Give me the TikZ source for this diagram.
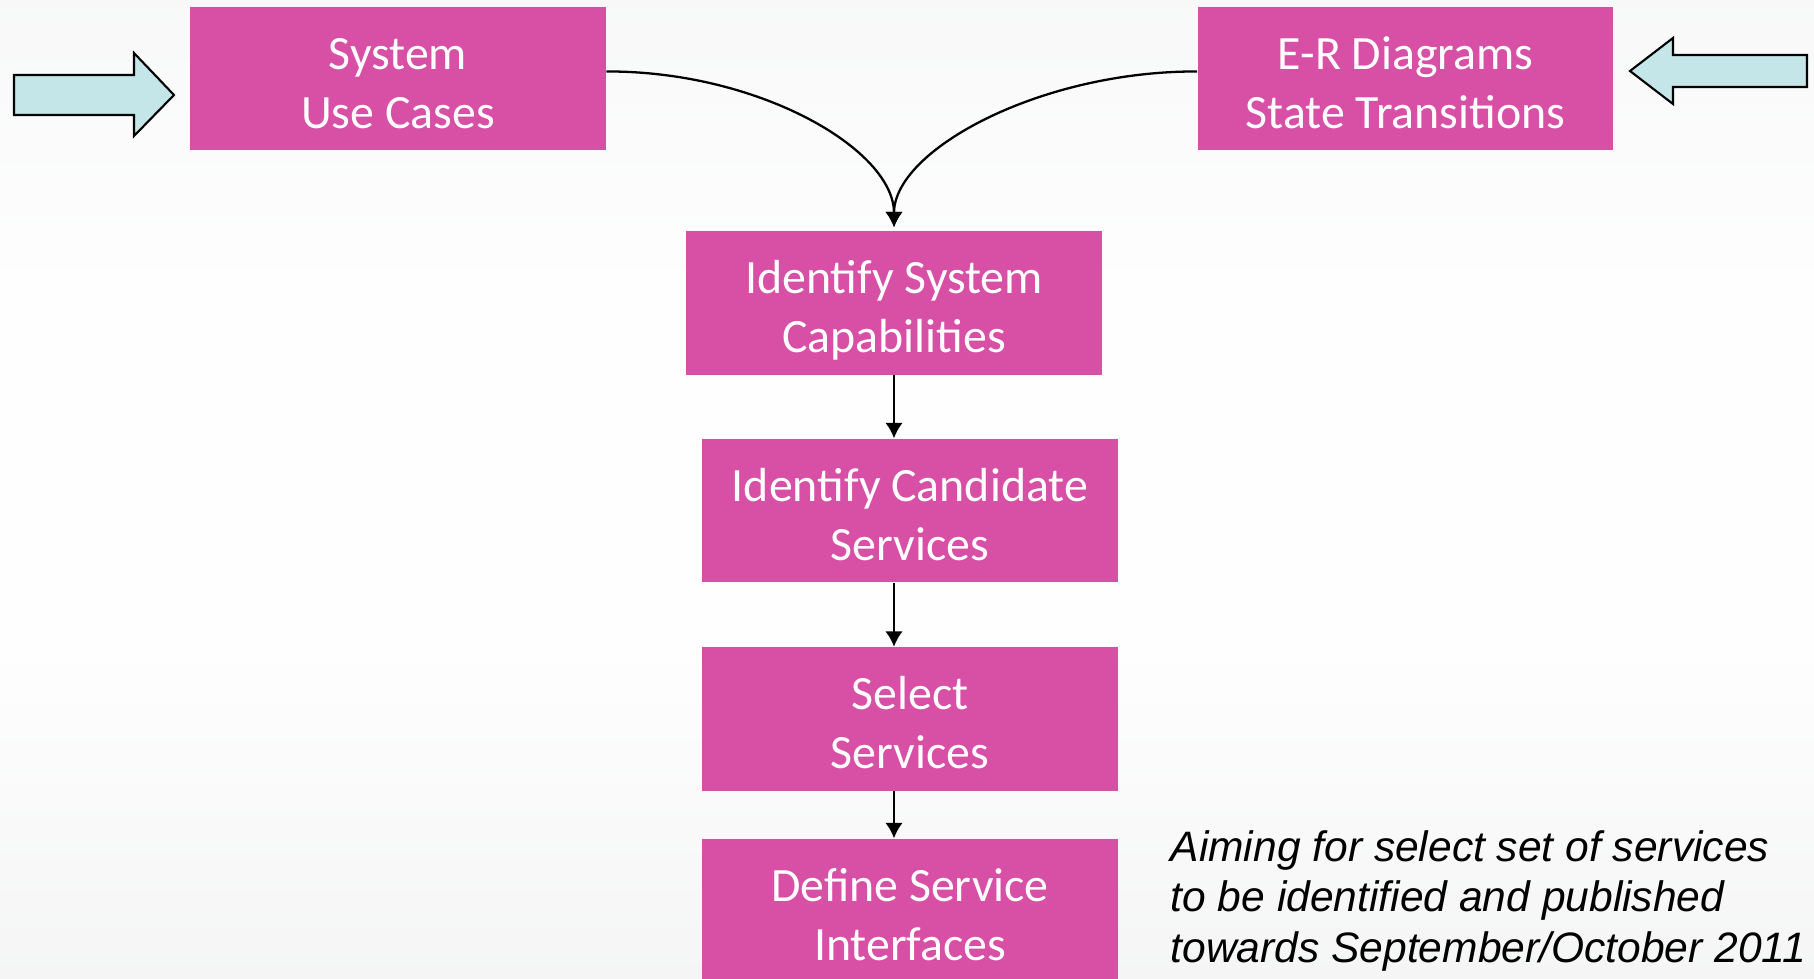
\documentclass[tikz,border=0pt]{standalone}
\usepackage{fontspec}
\setmainfont{Carlito}
\newfontfamily\notefont{Liberation Sans}
\usepackage{xcolor}
\usepackage{tikz}
\usetikzlibrary{shapes.geometric, arrows.meta}
\definecolor{boxpink}{RGB}{216,79,166}
\definecolor{arrowcyan}{RGB}{197,230,232}
\definecolor{bgtop}{RGB}{238,239,239}
\definecolor{bgmid}{RGB}{254,254,254}
\definecolor{bgbot}{RGB}{231,232,234}
\pgfdeclareverticalshading{slidebg}{100bp}{color(0bp)=(bgbot); color(42bp)=(bgmid); color(60bp)=(bgmid); color(100bp)=(bgtop)}
\tikzstyle{arrow} = [line width=0.65pt,-{Latex[length=4.4pt,width=5pt]}]
\tikzstyle{stepbox} = [rectangle, fill=boxpink, text=white, minimum width=4.15cm, minimum height=1.43cm, inner sep=0pt, align=center, text height=28.2pt, text depth=0pt, font=\fontsize{13.6}{16.8}\selectfont]
\tikzstyle{blockarrow} = [draw=black, fill=arrowcyan, line width=0.6pt]

\begin{document}
\begin{tikzpicture}[x=0.01cm,y=-0.01cm]
	\begin{scope}
	
	%Background
	\shade [shading=slidebg] (0,0) rectangle (1814,979);
	\useasboundingbox (0,0) rectangle (1814,979);
	
	% Inputs:
	\node [stepbox] (usecases) at (398,78.5) {System\\Use Cases};
	\node [stepbox] (erdiag) at (1405.5,78.5) {E-R Diagrams\\State Transitions};
	
	% Steps:
	\node [stepbox] (capab) at (894,303) {Identify System\\Capabilities};
	\node [stepbox] (candid) at (910,510.5) {Identify Candidate\\Services};
	\node [stepbox] (select) at (910,719) {Select\\Services};
	\node [stepbox] (define) at (910,910.5) {Define Service\\Interfaces};
	
	% Block arrows pointing at the inputs
	\draw [blockarrow] (14,75) -- (134,75) -- (134,53) -- (174,95) -- (134,136) -- (134,115) -- (14,115) -- cycle;
	\draw [blockarrow] (1807,55) -- (1673,55) -- (1673,38) -- (1630,71) -- (1673,104) -- (1673,87) -- (1807,87) -- cycle;
	
	% Connectors:
	\draw [arrow] ([yshift=2pt]usecases.east) .. controls (760,71) and (894,150) .. ([yshift=1pt]capab.north);
	\draw [arrow] ([yshift=2pt]erdiag.west) .. controls (1040,71) and (894,150) .. ([yshift=1pt]capab.north);
	\draw [arrow] (capab.south) -- (capab.south |- candid.north);
	\draw [arrow] (candid.south -| capab.south) -- (select.north -| capab.south);
	\draw [arrow] (select.south -| capab.south) -- (define.north -| capab.south);
	
	% Note:
	% base anchor sits on the last line here
	\node [anchor=base west, inner sep=0pt, align=left, font=\notefont\itshape\fontsize{12.1}{14.3}\selectfont] (note) at (1170,962) {Aiming for select set of services\\to be identified and published\\towards September/October 2011};
	
	\end{scope}
\end{tikzpicture}
\end{document}
